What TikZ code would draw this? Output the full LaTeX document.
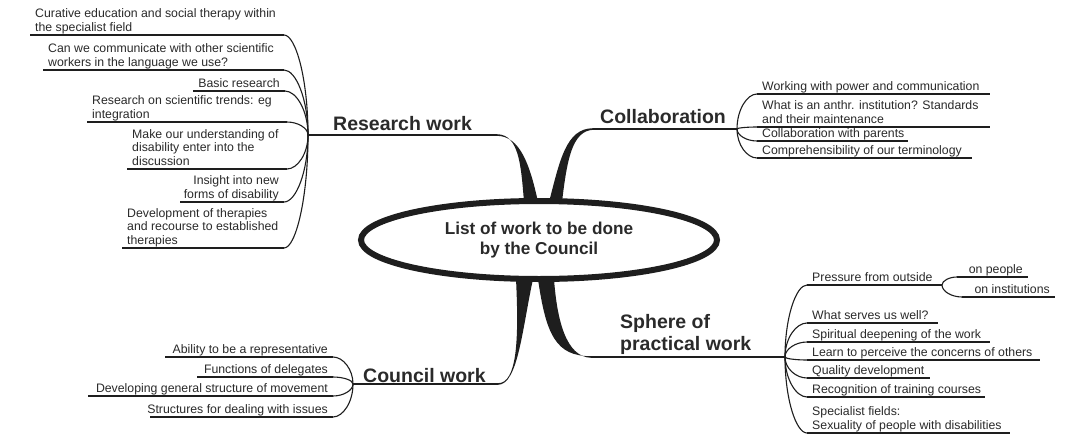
\documentclass[tikz,border=0pt]{standalone}
\usepackage{fontspec}
\setmainfont{Liberation Sans}
\usetikzlibrary{calc,shapes.geometric}
\definecolor{ink}{HTML}{1E1E1E}
\definecolor{txt}{HTML}{2A2A2A}
\newcommand\ustrut{\rule[-3pt]{0pt}{3pt}}
% left-aligned leaf: name, left x, right x, underline y, text
\newcommand\leafL[5]{%
  \coordinate (#1w) at (#2,#4);
  \coordinate (#1e) at (#3,#4);
  \node[leaf, align=left, anchor=south west] (#1) at (#1w) {#5\ustrut};
  \draw[uline] (#1w) -- (#1e);}
% right-aligned leaf
\newcommand\leafR[5]{%
  \coordinate (#1w) at (#2,#4);
  \coordinate (#1e) at (#3,#4);
  \node[leaf, align=right, anchor=south east] (#1) at (#1e) {#5\ustrut};
  \draw[uline] (#1w) -- (#1e);}
\newcommand\twig[2]{\draw[twig] (#1) .. controls ($(#1)!0.55!(#1|-#2)$) and ($(#2)!0.5!(#1|-#2)$) .. (#2);}
\begin{document}
\begin{tikzpicture}[x=1pt,y=-1pt,
  leaf/.style={font=\fontsize{12.3}{13.5}\selectfont, text=txt, inner xsep=5pt, inner ysep=0.5pt},
  title/.style={font=\bfseries\fontsize{19.5}{22}\selectfont, text=txt, inner sep=0pt, align=left},
  uline/.style={draw=ink, line width=1.1pt},
  twig/.style={draw=ink, line width=1.1pt},
  mainline/.style={draw=ink, line width=1.6pt}]
\useasboundingbox[fill=white] (0,0) rectangle (1065,439);

% hubs
\coordinate (HR) at (308,135);
\coordinate (HC) at (737,129);
\coordinate (HS) at (785,357);
\coordinate (HK) at (353,384);
\coordinate (R0) at (497,135);
\coordinate (C0) at (593,129);
\coordinate (S0) at (591,357);
\coordinate (K0) at (498,384);

% tapered stems
\fill[ink] (524,202) .. controls (521,165) and (519,134.6) .. (497,134.2) -- (497,135.8) .. controls (520,136) and (530,165) .. (538,202) -- cycle;
\fill[ink] (549,202) .. controls (560,160) and (566,128.5) .. (593,128.2) -- (593,129.8) .. controls (572,131) and (567,160) .. (562,202) -- cycle;
\fill[ink] (516,279) .. controls (519,340) and (517,383.2) .. (498,383.2) -- (498,384.8) .. controls (518,384.5) and (522,330) .. (533,279) -- cycle;
\fill[ink] (538,279) .. controls (546,335) and (556,356.2) .. (591,356.2) -- (591,357.8) .. controls (566,357) and (557,320) .. (554,279) -- cycle;

% centre
\node[draw=ink, line width=6pt, ellipse, minimum width=356pt, minimum height=78pt, inner sep=0pt,
      font=\bfseries\fontsize{17.2}{19.5}\selectfont, text=txt, align=center] (centre) at (539,240)
      {List of work to be done\\by the Council};

% main branches
\draw[mainline] (R0) -- (HR);
\draw[mainline] (C0) -- (HC);
\draw[mainline] (S0) -- (HS);
\draw[mainline] (K0) -- (HK);
\node[title, anchor=base west] (research) at (333,130) {Research work};
\node[title, anchor=base west] (collab) at (600,123) {Collaboration};
\node[title, anchor=north west] (sphere) at (620,314) {Sphere of\\practical work};
\node[title, anchor=base west] (council) at (363,382) {Council work};

% Research work
\leafL{r1}{30}{284}{35}{Curative education and social therapy within\\the specialist field}
\leafL{r2}{43}{284}{70}{Can we communicate with other scientific\\workers in the language we use?}
\leafR{r3}{193}{285}{91}{Basic research}
\leafL{r4}{87}{287}{122}{Research on scientific trends: eg\\integration}
\leafL{r5}{127}{287}{169}{Make our understanding of\\disability enter into the\\discussion}
\leafR{r6}{180}{284}{202}{Insight into new\\forms of disability}
\leafL{r7}{122}{284}{248}{Development of therapies\\and recourse to established\\therapies}
\foreach \n in {r1,r2,r3,r4,r5,r6,r7} {\twig{HR}{\n e}}

% Collaboration
\leafL{c1}{757}{990}{94}{Working with power and communication}
\leafL{c2}{757}{990}{127}{What is an anthr. institution? Standards\\and their maintenance}
\leafL{c3}{757}{908}{141}{Collaboration with parents}
\leafL{c4}{757}{972}{158}{Comprehensibility of our terminology}
\foreach \n in {c1,c2,c3,c4} {\twig{HC}{\n w}}

% Sphere of practical work
\leafL{s1}{807}{942}{285}{Pressure from outside}
\leafR{sa}{957}{1028}{277}{on people}
\leafR{sb}{962}{1055}{297}{on institutions}
\leafL{s2}{807}{938}{323}{What serves us well?}
\leafL{s3}{807}{990}{342}{Spiritual deepening of the work}
\leafL{s4}{807}{1040}{360}{Learn to perceive the concerns of others}
\leafL{s5}{807}{930}{378}{Quality development}
\leafL{s6}{807}{985}{397}{Recognition of training courses}
\leafL{s7}{807}{1010}{433}{Specialist fields:\\Sexuality of people with disabilities}
\foreach \n in {s1,s2,s3,s4,s5,s6,s7} {\twig{HS}{\n w}}
\twig{s1e}{saw}
\twig{s1e}{sbw}

% Council work
\leafR{k1}{165}{333}{357}{Ability to be a representative}
\leafR{k2}{197}{333}{377}{Functions of delegates}
\leafR{k3}{88}{333}{396}{Developing general structure of movement}
\leafR{k4}{150}{333}{417}{Structures for dealing with issues}
\foreach \n in {k1,k2,k3,k4} {\twig{HK}{\n e}}
\end{tikzpicture}
\end{document}
